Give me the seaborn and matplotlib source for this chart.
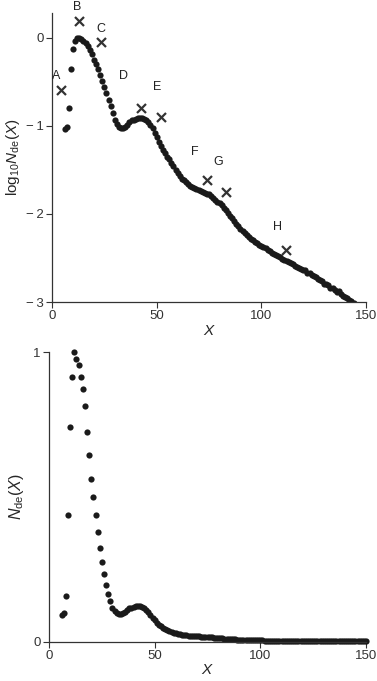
import numpy as np
import pandas as pd
import matplotlib
matplotlib.use("Agg")
import matplotlib.pyplot as plt
import seaborn as sns

# === Данные ===
# левая ветвь до пика
x_left = [6.3, 7.3, 8.1, 9.2, 10.1, 10.9, 11.9]
logn_left = [-1.04, -1.01, -0.80, -0.36, -0.13, -0.04, 0.00]

# правая ветвь, шаг 1 от X=13 до X=150
x_right = list(range(13, 151))
logn_right = [
    -0.01, -0.02, -0.04, -0.06, -0.09, -0.14, -0.19, -0.25, -0.30, -0.36,   # 13-22
    -0.42, -0.49, -0.56, -0.63, -0.71, -0.78, -0.85, -0.93, -0.98, -1.01,   # 23-32
    -1.02, -1.02, -1.01, -0.99, -0.96, -0.94, -0.93, -0.92, -0.91, -0.91,   # 33-42
    -0.91, -0.92, -0.94, -0.96, -0.99, -1.03, -1.08, -1.13, -1.18, -1.23,   # 43-52
    -1.27, -1.31, -1.35, -1.38, -1.42, -1.46, -1.50, -1.54, -1.57, -1.60,   # 53-62
    -1.62, -1.64, -1.66, -1.68, -1.70, -1.71, -1.72, -1.73, -1.74, -1.75,   # 63-72
    -1.76, -1.77, -1.78, -1.80, -1.82, -1.84, -1.86, -1.88, -1.90, -1.93,   # 73-82
    -1.96, -1.99, -2.02, -2.05, -2.08, -2.11, -2.14, -2.17, -2.19, -2.22,   # 83-92
    -2.24, -2.26, -2.28, -2.30, -2.32, -2.33, -2.35, -2.36, -2.38, -2.39,   # 93-102
    -2.41, -2.42, -2.44, -2.45, -2.47, -2.48, -2.49, -2.51, -2.52, -2.53,   # 103-112
    -2.55, -2.56, -2.57, -2.59, -2.60, -2.61, -2.62, -2.64, -2.64, -2.67,   # 113-122
    -2.67, -2.69, -2.71, -2.72, -2.74, -2.75, -2.76, -2.79, -2.80, -2.81,   # 123-132
    -2.84, -2.84, -2.86, -2.89, -2.88, -2.91, -2.93, -2.94, -2.95, -2.98,   # 133-142
    -2.99, -3.01, -3.03, -3.04, -3.06, -3.07, -3.09, -3.10,                 # 143-150
]

# крестики
cross_x = [4.5, 12.9, 23.4, 42.4, 52.1, 74.2, 83.1, 111.8]
cross_y = [-0.60, 0.19, -0.05, -0.80, -0.90, -1.61, -1.75, -2.41]

# буквы
label_text = ['A', 'B', 'C', 'D', 'E', 'F', 'G', 'H']
label_x = [2.2, 11.8, 23.4, 34.1, 50.0, 68.0, 79.5, 107.8]
label_y = [-0.44, 0.35, 0.10, -0.44, -0.56, -1.30, -1.41, -2.15]

log_ticks = [0, -1, -2, -3]
log_ticklabels = ['0', '\u2212\u20091', '\u2212\u20092', '\u2212\u20093']

df = pd.DataFrame({'X': x_left + x_right, 'logN': logn_left + logn_right})
df['N'] = 10 ** df['logN']
crosses = pd.DataFrame({'X': cross_x, 'y': cross_y})

# === Оформление ===
sns.set_theme(style='ticks')
plt.rcParams['font.family'] = ['Liberation Sans', 'DejaVu Sans']
plt.rcParams['mathtext.fontset'] = 'custom'
plt.rcParams['mathtext.rm'] = 'Liberation Sans'
plt.rcParams['mathtext.it'] = 'Liberation Sans:italic'
plt.rcParams['axes.edgecolor'] = '#333333'
plt.rcParams['xtick.color'] = '#333333'
plt.rcParams['ytick.color'] = '#333333'

dot_color = '#1a1a1a'
fs = 9.5

fig = plt.figure(figsize=(3.77, 6.81), dpi=100)
ax1 = fig.add_axes([0.138, 0.5565, 0.833, 0.4245])
ax2 = fig.add_axes([0.130, 0.0577, 0.841, 0.4254])

# верхний график
sns.scatterplot(data=df, x='X', y='logN', ax=ax1, s=20, color=dot_color,
                linewidth=0, legend=False)
sns.scatterplot(data=crosses, x='X', y='y', ax=ax1, marker='x', s=42,
                color='#333333', linewidth=1.6, legend=False)
for t, lx, ly in zip(label_text, label_x, label_y):
    ax1.text(lx, ly, t, fontsize=9, ha='center', va='center', color='#222222')
ax1.set_xlim(0, 150)
ax1.set_ylim(-3, 0.28)
ax1.set_xticks([0, 50, 100, 150])
ax1.set_yticks(log_ticks)
ax1.set_yticklabels(log_ticklabels)
ax1.set_xlabel('$X$', fontsize=11, labelpad=1)
ax1.set_ylabel(r'log$_{10}$$N_{\mathrm{de}}$($X$)', fontsize=11, labelpad=3)

# нижний график
sns.scatterplot(data=df, x='X', y='N', ax=ax2, s=20, color=dot_color,
                linewidth=0, legend=False)
for c in ax2.collections:
    c.set_clip_on(False)
ax2.set_xlim(0, 150)
ax2.set_ylim(0, 1)
ax2.set_xticks([0, 50, 100, 150])
ax2.set_yticks([0, 1])
ax2.set_xlabel('$X$', fontsize=11, labelpad=1)
ax2.set_ylabel(r'$N_{\mathrm{de}}$($X$)', fontsize=11.5, labelpad=5)

for ax in (ax1, ax2):
    sns.despine(ax=ax)
    ax.tick_params(labelsize=fs, length=4, width=0.8, pad=2)
    for sp in ax.spines.values():
        sp.set_linewidth(0.9)

fig.savefig('out.png', dpi=100)
